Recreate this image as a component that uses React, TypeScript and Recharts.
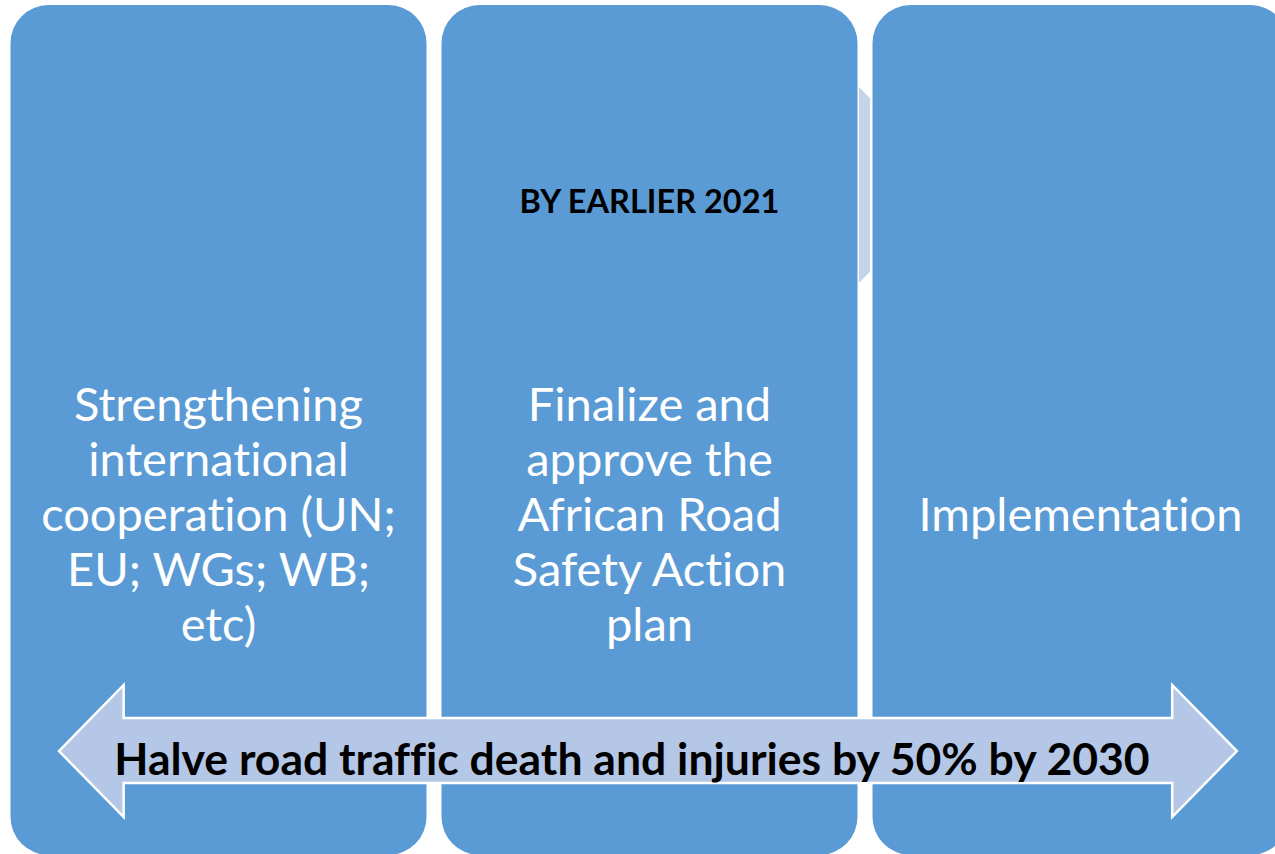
import React from 'react';
import { ComposedChart, Bar, XAxis, YAxis, ReferenceArea, Rectangle } from 'recharts';

// ---- data ----
const stageIds = ['cooperation', 'action-plan', 'implementation'];
const stagePositions = [0.5, 1.5, 2.5];
const stageLines = [
  ['Strengthening', 'international', 'cooperation (UN;', 'EU; WGs; WB;', 'etc)'],
  ['Finalize and', 'approve the', 'African Road', 'Safety Action', 'plan'],
  ['Implementation'],
];
const stageMilestones = ['', 'BY EARLIER 2021', ''];
const stageExtent = [1, 1, 1];

const goalText = 'Halve road traffic death and injuries by 50% by 2030';
const goalSpanX = [0.131, 2.864];
const goalSpanY = [0.0447, 0.2];

const connectorSpanX = [1.987, 2.0128];
const connectorSpanY = [0.673, 0.9035];

const data = stageIds.map((id, i) => ({
  id,
  pos: stagePositions[i],
  value: stageExtent[i],
  lines: stageLines[i],
  milestone: stageMilestones[i],
}));

const FONT = 'Lato, Carlito, Calibri, sans-serif';
const BOX = '#5B9BD5';
const ARROW = '#B4C7E7';
const noLig = { fontVariantLigatures: 'none' as const, fontFeatureSettings: '"liga" 0, "clig" 0' };

const StageBox = (props: any) => {
  const { x, y, width, height, payload } = props;
  const cx = x + width / 2;
  const lines: string[] = payload.lines;
  const n = lines.length;
  const mid = y + height * 0.619;
  const lh = 55;
  return (
    <g>
      <Rectangle x={x} y={y} width={width} height={height} radius={38} fill={BOX} />
      {payload.milestone ? (
        <text x={cx} y={y + height * 0.2306 + 12} textAnchor="middle" fontFamily={FONT} fontWeight={700} fontSize={32.5} fill="#000" style={noLig}>
          {payload.milestone}
        </text>
      ) : null}
      {lines.map((l, i) => (
        <text key={i} x={cx} y={mid + (i - (n - 1) / 2) * lh} textAnchor="middle" fontFamily={FONT} fontSize={47} fill="#fff" style={noLig}>
          {l}
        </text>
      ))}
    </g>
  );
};

const DoubleArrow = (props: any) => {
  const { x, y, width, height } = props;
  const head = height * 0.49;
  const st = y + height * 0.25;
  const sb = y + height * 0.742;
  const cy = y + height / 2;
  const pts = [
    [x, cy], [x + head, y], [x + head, st], [x + width - head, st], [x + width - head, y],
    [x + width, cy], [x + width - head, y + height], [x + width - head, sb], [x + head, sb], [x + head, y + height],
  ].map((p) => p.join(',')).join(' ');
  return (
    <g>
      <polygon points={pts} fill={ARROW} stroke="#fff" strokeWidth={2.5} />
      <text x={x + width / 2 - 16} y={cy + 24} textAnchor="middle" fontFamily={FONT} fontWeight={700} fontSize={44.5} fill="#000" style={noLig}>
        {goalText}
      </text>
    </g>
  );
};

const Connector = (props: any) => {
  const { x, y, width, height } = props;
  const pts = [[x, y], [x + width, y + width], [x + width, y + height - width], [x, y + height]]
    .map((p) => p.join(',')).join(' ');
  return <polygon points={pts} fill="#C6D4EA" />;
};

export default function App() {
  return (
    <div style={{ position: 'absolute', left: 0, top: 0, width: 1275, height: 854, overflow: 'hidden', background: '#fff' }}>
      <ComposedChart
        width={1300}
        height={860}
        data={data}
        margin={{ top: 5, right: 4.5, bottom: 5, left: 2.5 }}
      >
        <XAxis xAxisId="stage" dataKey="id" type="category" hide />
        <XAxis xAxisId="t" dataKey="pos" type="number" domain={[0, 3]} allowDataOverflow hide />
        <YAxis type="number" domain={[0, 1]} allowDataOverflow hide />
        <ReferenceArea
          xAxisId="t"
          x1={connectorSpanX[0]}
          x2={connectorSpanX[1]}
          y1={connectorSpanY[0]}
          y2={connectorSpanY[1]}
          shape={Connector}
          ifOverflow="visible"
        />
        <Bar xAxisId="stage" dataKey="value" barSize={416} shape={StageBox} isAnimationActive={false} />
        <ReferenceArea
          xAxisId="t"
          x1={goalSpanX[0]}
          x2={goalSpanX[1]}
          y1={goalSpanY[0]}
          y2={goalSpanY[1]}
          shape={DoubleArrow}
          ifOverflow="visible"
          zIndex={1500}
        />
      </ComposedChart>
    </div>
  );
}
